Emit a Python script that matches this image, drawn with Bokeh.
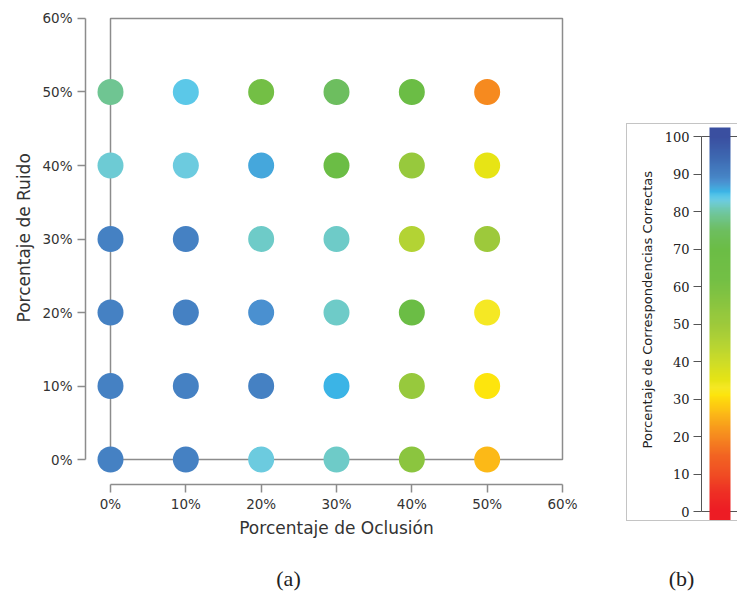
import numpy as np
from bokeh.plotting import figure
from bokeh.layouts import row, column
from bokeh.models import Range1d, LinearColorMapper, FixedTicker, ColumnDataSource, Spacer, Title
from bokeh.core.properties import value
from bokeh.embed import file_html
from bokeh.resources import INLINE

# ---- data -------------------------------------------------------------
occlusion = [0, 10, 20, 30, 40, 50]          # % occlusion (x)
noise = [0, 10, 20, 30, 40, 50]              # % noise (y)
# % of correct correspondences: one row per noise level, one column per occlusion level
correct = [
    [90, 90, 83, 82, 55, 26],        # noise 0%
    [90, 90, 90, 85.5, 52, 31],      # noise 10%
    [90, 90, 88, 82, 70, 33],        # noise 20%
    [90, 90, 82, 82, 45, 50],        # noise 30%
    [82.5, 83, 86.5, 70, 52, 35],    # noise 40%
    [79, 84, 62, 75, 70, 20],        # noise 50%
]
axis_ticks = [0, 10, 20, 30, 40, 50, 60]
bar_ticks = [0, 10, 20, 30, 40, 50, 60, 70, 80, 90, 100]
captions = ["(a)", "(b)"]

# ---- colour scale (red -> yellow -> green -> cyan -> blue) -------------
stops = [0, 5, 10, 15, 20, 24, 26, 29, 31, 33, 35, 40, 45, 50, 52, 55, 62, 70,
         75, 79, 82, 83, 84, 85.5, 86.5, 88, 90, 95, 100]
stop_colors = ["#ed1c24", "#ee2f24", "#f04e23", "#f26522", "#f68a1f", "#f9a81a",
               "#fcb917", "#fdd20f", "#fde50d", "#f5e824", "#e7e415", "#cddc28",
               "#b3d334", "#9dc93b", "#97c93d", "#8bc53f", "#73bf45", "#6bbd45",
               "#6dbe5f", "#6fc592", "#6ecbc8", "#6ccbdf", "#5bc8e8", "#3bb4e6",
               "#45a7dc", "#4a90d0", "#4581c3", "#3d66b0", "#3a4fa0"]


def build_palette(n=1001):
    rgb = np.array([[int(c[i:i + 2], 16) for i in (1, 3, 5)] for c in stop_colors], float)
    t = np.linspace(0, 100, n)
    chans = [np.interp(t, stops, rgb[:, k]) for k in range(3)]
    return ["#%02x%02x%02x" % (int(round(r)), int(round(g)), int(round(b)))
            for r, g, b in zip(*chans)]


mapper = LinearColorMapper(palette=build_palette(), low=0, high=100)

SANS = "DejaVu Sans"
AXIS_GRAY = "#8c8c8c"
TEXT = "#333333"

# ---- panel (a): scatter ----------------------------------------------
xs, ys, vs = [], [], []
for i, nz in enumerate(noise):
    for j, oc in enumerate(occlusion):
        xs.append(oc)
        ys.append(nz)
        vs.append(correct[i][j])
src = ColumnDataSource(dict(x=xs, y=ys, v=vs))

lo, hi = min(axis_ticks), max(axis_ticks)
pa = figure(width=626, height=560, output_backend="svg", toolbar_location=None,
            x_range=Range1d(-3.319, 63.319), y_range=Range1d(-3.401, 60.272),
            min_border_left=85, min_border_right=39, min_border_top=16,
            min_border_bottom=76, frame_align=False)
pa.outline_line_color = None
pa.grid.visible = False

# square plotting region
pa.quad(left=lo, right=hi, bottom=lo, top=hi, fill_color=None,
        line_color=AXIS_GRAY, line_width=1.5)
pa.scatter("x", "y", source=src, size=26, line_color=None,
           fill_color={"field": "v", "transform": mapper})

for ax in (pa.xaxis[0], pa.yaxis[0]):
    ax.ticker = FixedTicker(ticks=axis_ticks)
    ax.major_label_overrides = {t: f"{t}%" for t in axis_ticks}
    ax.bounds = (lo, hi)
    ax.minor_tick_line_color = None
    ax.major_tick_in = 0
    ax.major_tick_out = 8
    ax.axis_line_color = AXIS_GRAY
    ax.axis_line_width = 1.5
    ax.major_tick_line_color = AXIS_GRAY
    ax.major_tick_line_width = 1.5
    ax.major_label_text_font = SANS
    ax.major_label_text_font_size = "13.5px"
    ax.major_label_text_color = TEXT
    ax.axis_label_text_font = SANS
    ax.axis_label_text_font_size = "17px"
    ax.axis_label_text_font_style = "normal"
    ax.axis_label_text_color = TEXT

pa.xaxis.axis_label = "Porcentaje de Oclusión"
pa.xaxis.major_label_standoff = 3
pa.yaxis.major_label_standoff = 5
pa.xaxis.axis_label_standoff = 3

# y label centred on the 0-60 % span rather than the whole frame
pa.add_layout(Title(text="Porcentaje de Ruido", align="left", offset=162, standoff=12,
                    text_font=SANS, text_font_size="17px", text_font_style="normal",
                    text_color=TEXT), "left")

# ---- panel (b): colour bar -------------------------------------------
pb = figure(width=111, height=398, output_backend="svg", toolbar_location=None,
            x_range=Range1d(0, 37), y_range=Range1d(-2.933, 103.2),
            min_border_left=74, min_border_right=0, min_border_top=0,
            min_border_bottom=0, frame_align=False,
            styles={"border-left": "1px solid #c4c4c4",
                    "border-top": "1px solid #c4c4c4",
                    "border-bottom": "1px solid #c4c4c4"})
pb.outline_line_color = None
pb.grid.visible = False
pb.xaxis.visible = False

pb.quad(left=0, right=60, bottom=min(bar_ticks), top=max(bar_ticks),
        fill_color=None, line_color="#555555", line_width=1)
grad = np.linspace(-2.4, 102.4, 420).reshape(-1, 1)
pb.image(image=[grad], x=8, y=-2.4, dw=21, dh=104.8, color_mapper=mapper)

yb = pb.yaxis[0]
yb.ticker = FixedTicker(ticks=bar_ticks)
yb.bounds = (min(bar_ticks), max(bar_ticks))
yb.minor_tick_line_color = None
yb.major_tick_in = 0
yb.major_tick_out = 8
yb.axis_line_color = "#555555"
yb.major_tick_line_color = "#555555"
yb.major_label_text_font = "DejaVu Serif"
yb.major_label_text_font_size = "13px"
yb.major_label_text_color = "#222222"
yb.major_label_standoff = 4

pb.add_layout(Title(text="Porcentaje de Correspondencias Correctas", align="left",
                    offset=74, standoff=13, text_font=SANS, text_font_size="13.1px",
                    text_font_style="normal", text_color="#222222"), "left")

# ---- sub-figure captions ---------------------------------------------
cap = figure(width=739, height=31, output_backend="svg", toolbar_location=None,
             x_range=Range1d(0, 739), y_range=Range1d(0, 31),
             min_border=0, frame_align=False)
cap.axis.visible = False
cap.grid.visible = False
cap.outline_line_color = None
cap.text(x=[288, 681], y=[13, 13], text=captions, text_align="center",
         text_baseline="middle", text_font=value("Liberation Serif"),
         text_font_size="22px", text_color="#222222")

layout = column(row(pa, column(Spacer(width=112, height=123), pb)), cap)
open("out.html", "w").write(file_html(layout, INLINE))
